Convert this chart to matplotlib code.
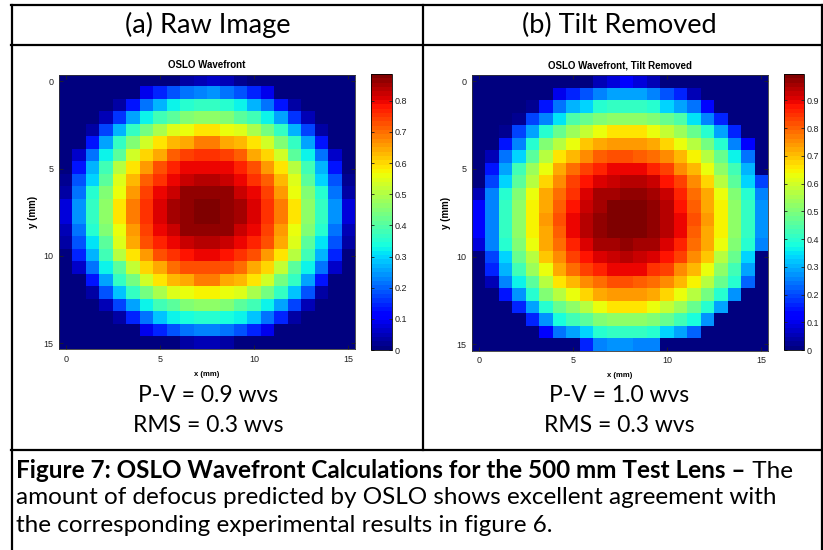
import matplotlib
matplotlib.use('Agg')
import matplotlib.pyplot as plt
import numpy as np
from matplotlib.lines import Line2D

# wavefront samples (waves), 22 x 22 grid
raw_wave = [
    [0,0,0,0,0,0,0,0,.01,.04,.05,.06,.05,.02,0,0,0,0,0,0,0,0],
    [0,0,0,0,0,0,.09,.14,.19,.21,.23,.24,.22,.19,.14,.09,0,0,0,0,0,0],
    [0,0,0,0,.04,.13,.22,.27,.33,.35,.37,.37,.35,.33,.27,.22,.13,.04,0,0,0,0],
    [0,0,0,.05,.16,.26,.33,.38,.41,.45,.46,.46,.45,.41,.38,.33,.26,.16,.05,0,0,0],
    [0,0,.04,.17,.27,.37,.43,.49,.54,.56,.59,.59,.56,.54,.49,.43,.37,.27,.17,.04,0,0],
    [0,0,.13,.25,.36,.45,.53,.59,.63,.65,.69,.69,.65,.63,.59,.53,.45,.36,.25,.13,0,0],
    [0,.06,.22,.33,.41,.53,.60,.65,.71,.74,.75,.75,.74,.71,.65,.60,.53,.41,.33,.22,.06,0],
    [.01,.13,.27,.38,.50,.59,.66,.73,.77,.79,.80,.80,.79,.77,.73,.66,.59,.50,.38,.27,.13,.01],
    [.02,.18,.30,.41,.54,.63,.71,.76,.80,.83,.84,.84,.83,.80,.76,.71,.63,.54,.41,.30,.18,.02],
    [.04,.22,.35,.45,.56,.66,.74,.79,.83,.86,.87,.87,.86,.83,.79,.74,.66,.56,.45,.35,.22,.04],
    [.07,.24,.37,.47,.59,.69,.76,.81,.85,.87,.88,.88,.87,.85,.81,.76,.69,.59,.47,.37,.24,.07],
    [.07,.24,.37,.47,.59,.69,.76,.81,.85,.87,.886,.886,.87,.85,.81,.76,.69,.59,.47,.37,.24,.07],
    [.05,.22,.35,.45,.56,.66,.74,.79,.83,.86,.87,.87,.86,.83,.79,.74,.66,.56,.45,.35,.22,.05],
    [.03,.19,.31,.41,.54,.64,.72,.77,.80,.83,.84,.84,.83,.80,.77,.72,.64,.54,.41,.31,.19,.03],
    [.01,.14,.27,.38,.50,.59,.66,.73,.76,.78,.79,.79,.78,.76,.73,.66,.59,.50,.38,.27,.14,.01],
    [0,.06,.22,.33,.41,.52,.60,.65,.70,.72,.73,.73,.72,.70,.65,.60,.52,.41,.33,.22,.06,0],
    [0,0,.13,.25,.36,.44,.53,.59,.63,.65,.68,.68,.65,.63,.59,.53,.44,.36,.25,.13,0,0],
    [0,0,.04,.18,.28,.37,.43,.49,.54,.56,.57,.57,.56,.54,.49,.43,.37,.28,.18,.04,0,0],
    [0,0,0,.05,.17,.26,.33,.38,.41,.45,.46,.46,.45,.41,.38,.33,.26,.17,.05,0,0,0],
    [0,0,0,0,.04,.14,.22,.28,.32,.34,.35,.35,.34,.32,.28,.22,.14,.04,0,0,0,0],
    [0,0,0,0,0,0,.09,.15,.19,.21,.23,.23,.21,.19,.15,.09,0,0,0,0,0,0],
    [0,0,0,0,0,0,0,0,.01,.04,.05,.05,.04,.01,0,0,0,0,0,0,0,0],
]

tilt_removed = [
    [0,0,0,0,0,0,0,0,.01,.05,.08,.11,.09,.05,0,0,0,0,0,0,0,0],
    [0,0,0,0,0,0,.10,.17,.21,.26,.29,.29,.28,.26,.21,.16,.05,0,0,0,0,0],
    [0,0,0,0,.03,.14,.24,.30,.34,.39,.41,.41,.41,.39,.33,.29,.24,.13,0,0,0,0],
    [0,0,0,.03,.19,.26,.35,.44,.47,.51,.52,.52,.52,.51,.47,.44,.35,.26,.17,0,0,0],
    [0,0,.03,.19,.29,.39,.47,.54,.59,.625,.66,.66,.66,.625,.59,.54,.47,.39,.28,.16,0,0],
    [0,0,.15,.26,.40,.50,.57,.625,.69,.72,.74,.74,.74,.72,.67,.625,.56,.49,.39,.26,.12,0],
    [0,.05,.24,.34,.46,.56,.66,.70,.76,.80,.81,.81,.80,.79,.75,.70,.65,.57,.47,.36,.24,0],
    [0,.15,.29,.42,.54,.625,.72,.78,.83,.86,.90,.89,.89,.87,.83,.76,.70,.625,.52,.42,.30,0],
    [.01,.20,.33,.46,.57,.67,.76,.83,.875,.91,.93,.94,.94,.92,.875,.83,.76,.67,.57,.46,.34,.20],
    [.05,.25,.40,.51,.625,.72,.79,.85,.91,.95,.96,.97,.97,.96,.92,.86,.79,.72,.625,.50,.40,.26],
    [.12,.26,.41,.52,.65,.73,.80,.88,.93,.96,.98,.995,.995,.97,.94,.88,.80,.73,.65,.52,.41,.27],
    [.12,.26,.41,.52,.65,.74,.81,.89,.94,.97,.99,.995,.98,.97,.94,.89,.81,.74,.65,.52,.41,.27],
    [.12,.26,.41,.52,.65,.73,.80,.89,.94,.97,.995,.995,.995,.97,.94,.89,.80,.73,.65,.52,.41,.27],
    [.08,.25,.40,.51,.625,.72,.79,.86,.91,.95,.96,.97,.96,.95,.91,.86,.79,.72,.625,.51,.40,.26],
    [0,.20,.33,.47,.57,.69,.76,.83,.875,.91,.93,.94,.93,.91,.875,.83,.76,.69,.57,.47,.33,0],
    [0,.16,.30,.42,.54,.625,.72,.78,.83,.86,.89,.89,.89,.85,.83,.76,.70,.625,.52,.42,.29,0],
    [0,.05,.25,.36,.46,.56,.66,.70,.75,.79,.81,.81,.80,.79,.75,.70,.65,.57,.47,.39,.23,0],
    [0,0,.15,.27,.39,.50,.56,.625,.67,.72,.74,.74,.74,.72,.67,.625,.56,.49,.39,.27,0,0],
    [0,0,0,.17,.29,.40,.47,.52,.57,.625,.66,.66,.66,.625,.59,.54,.47,.40,.29,0,0,0],
    [0,0,0,0,.17,.27,.375,.42,.46,.51,.52,.52,.52,.51,.47,.42,.375,.27,0,0,0,0],
    [0,0,0,0,0,.12,.24,.29,.34,.39,.41,.41,.41,.39,.34,.29,.23,0,0,0,0,0],
    [0,0,0,0,0,0,0,0,.17,.25,.27,.27,.26,.25,0,0,0,0,0,0,0,0],
]

grid_span = [0, 15]          # sample positions run 0..15 mm
axis_ticks = [0, 5, 10, 15]
cbar_ticks_a = [0, 0.1, 0.2, 0.3, 0.4, 0.5, 0.6, 0.7, 0.8]
cbar_ticks_b = [0, 0.1, 0.2, 0.3, 0.4, 0.5, 0.6, 0.7, 0.8, 0.9]

headers = ['(a) Raw Image', '(b) Tilt Removed']
plot_titles = ['OSLO Wavefront', 'OSLO Wavefront, Tilt Removed']
pv_text = ['P-V = 0.9 wvs', 'P-V = 1.0 wvs']
rms_text = ['RMS = 0.3 wvs', 'RMS = 0.3 wvs']
caption_bold = 'Figure 7: OSLO Wavefront Calculations for the 500 mm Test Lens \u2013'
caption_rest = [' The',
                'amount of defocus predicted by OSLO shows excellent agreement with',
                'the corresponding experimental results in figure 6.']

W, H = 823, 550
fig = plt.figure(figsize=(W / 100, H / 100), dpi=100)
fig.patch.set_facecolor('white')

def px(x0, y0, x1, y1):
    # pixel box (top-left origin) -> figure rect
    return [x0 / W, 1 - y1 / H, (x1 - x0) / W, (y1 - y0) / H]

cmap = plt.get_cmap('jet', 64)
doc_font = ['Lato', 'DejaVu Sans']
mat_font = ['Liberation Sans', 'DejaVu Sans']

panels = [
    (raw_wave, (59.3, 75, 355, 349.3), (371, 74, 392, 350), cbar_ticks_a, 208),
    (tilt_removed, (472.3, 75, 767.7, 350.7), (784, 74, 804.3, 350), cbar_ticks_b, 619),
]

for i, (data, box, cbox, cticks, cx) in enumerate(panels):
    z = np.array(data)
    n = z.shape[0]
    half = (grid_span[1] - grid_span[0]) / (n - 1) / 2
    ax = fig.add_axes(px(*box))
    im = ax.imshow(z, cmap=cmap, interpolation='nearest', aspect='auto',
                   vmin=0, vmax=z.max(),
                   extent=(grid_span[0] - half, grid_span[1] + half,
                           grid_span[1] + half, grid_span[0] - half))
    ax.set_xticks(axis_ticks)
    ax.set_yticks(axis_ticks)
    ax.tick_params(direction='in', length=3, width=0.6, top=True, right=True,
                   labelsize=6.5, pad=4, colors='#222222')
    for lab in ax.get_xticklabels() + ax.get_yticklabels():
        lab.set_family(mat_font)
    for s in ax.spines.values():
        s.set_linewidth(0.6)
        s.set_color('#333333')
    ax.set_title(plot_titles[i], fontsize=7, fontweight='bold',
                 family=mat_font, pad=5)
    ax.set_xlabel('x (mm)', fontsize=5.5, fontweight='bold', family=mat_font,
                  labelpad=5)
    ax.set_ylabel('y (mm)', fontsize=7, fontweight='bold', family=mat_font,
                  labelpad=4)

    cax = fig.add_axes(px(*cbox))
    cb = fig.colorbar(im, cax=cax, ticks=cticks)
    cb.ax.set_yticklabels(['0'] + ['%.1f' % t for t in cticks[1:]])
    cb.ax.tick_params(direction='in', length=2.5, width=0.6, left=True,
                      right=True, labelsize=6.5, pad=2, colors='#222222')
    for lab in cb.ax.get_yticklabels():
        lab.set_family(mat_font)
    cb.outline.set_linewidth(0.6)

    # table text
    fig.text(cx / W, 1 - 25 / H, headers[i], ha='center', va='center',
             fontsize=19.5, family=doc_font)
    fig.text(cx / W, 1 - 396 / H, pv_text[i], ha='center', va='center',
             fontsize=16.5, family=doc_font)
    fig.text(cx / W, 1 - 425 / H, rms_text[i], ha='center', va='center',
             fontsize=16.5, family=doc_font)

# caption
cap_size = 17.5
t1 = fig.text(16 / W, 1 - 471 / H, caption_bold, ha='left', va='center',
              fontsize=cap_size, fontweight='bold', family=doc_font)
r = fig.canvas.get_renderer()
bb = t1.get_window_extent(renderer=r)
fig.text(bb.x1 / W, 1 - 471 / H, caption_rest[0], ha='left', va='center',
         fontsize=cap_size, family=doc_font)
fig.text(16 / W, 1 - 498 / H, caption_rest[1], ha='left', va='center',
         fontsize=cap_size, family=doc_font)
fig.text(16 / W, 1 - 525 / H, caption_rest[2], ha='left', va='center',
         fontsize=cap_size, family=doc_font)

# table rules
def hline(y, x0, x1, lw=1.6):
    fig.add_artist(Line2D([x0 / W, x1 / W], [1 - y / H, 1 - y / H],
                          color='black', lw=lw, transform=fig.transFigure))

def vline(x, y0, y1, lw=1.6):
    fig.add_artist(Line2D([x / W, x / W], [1 - y0 / H, 1 - y1 / H],
                          color='black', lw=lw, transform=fig.transFigure))

hline(5, 11, 822)
hline(45, 11, 822)
hline(450, 11, 822)
vline(11.5, 5, 550)
vline(821.5, 5, 550)
vline(423, 5, 450)

fig.savefig('out.png', dpi=100)
